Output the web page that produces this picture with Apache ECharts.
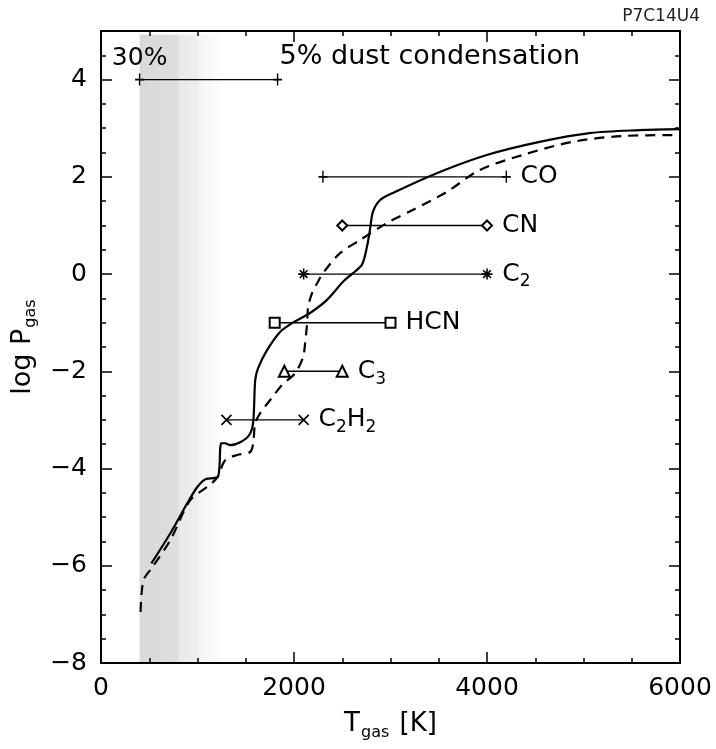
<!DOCTYPE html>
<html>
<head>
<meta charset="utf-8">
<script src="https://cdn.jsdelivr.net/npm/echarts@6/dist/echarts.min.js"></script>
<style>html,body{margin:0;padding:0;background:#fff;}#chart{width:716px;height:749px;}</style>
</head>
<body>
<div id="chart"></div>
<script>
// Solid curve (T_gas [K], log P_gas)
const tempSolid = [522, 719, 895, 998, 1081, 1205, 1225, 1246, 1287, 1339, 1442, 1536, 1577, 1598, 1629, 1722, 1856, 1980, 2166, 2342, 2508, 2611, 2704, 2756, 2787, 2818, 2890, 3025, 3511, 3997, 4545, 5062, 5579, 6000];
const logPSolid = [-5.95, -5.33, -4.71, -4.38, -4.22, -4.18, -4.03, -3.48, -3.48, -3.52, -3.46, -3.31, -3.05, -2.18, -1.93, -1.56, -1.19, -1.01, -0.80, -0.53, -0.16, 0.02, 0.19, 0.56, 0.91, 1.28, 1.52, 1.67, 2.10, 2.45, 2.72, 2.90, 2.96, 2.98];
// Dashed curve
const tempDashed = [410, 440, 533, 719, 925, 1112, 1205, 1287, 1412, 1546, 1577, 1598, 1650, 1753, 1877, 2011, 2094, 2115, 2136, 2146, 2187, 2239, 2301, 2477, 2684, 2963, 3232, 3583, 3924, 4370, 4886, 5403, 6000];
const logPDashed = [-6.95, -6.30, -6.03, -5.47, -4.65, -4.36, -4.18, -3.83, -3.72, -3.66, -3.48, -3.07, -2.86, -2.59, -2.28, -2.04, -1.71, -1.42, -1.01, -0.68, -0.39, -0.19, 0.02, 0.43, 0.70, 1.05, 1.32, 1.69, 2.14, 2.45, 2.72, 2.84, 2.86];
// Molecule formation ranges
const molecules = ['CO', 'CN', 'C2', 'HCN', 'C3', 'C2H2'];
const moleculeLabels = ['CO', 'CN', 'C{s|2}', 'HCN', 'C{s|3}', 'C{s|2}H{s|2}'];
const moleculeLogP = [2, 1, 0, -1, -2, -3];
const moleculeTmin = [2300, 2500, 2100, 1800, 1900, 1300];
const moleculeTmax = [4200, 4000, 4000, 3000, 2500, 2100];
// Dust condensation range
const dustLogP = 4;
const dustTmin = 400;
const dustTmax = 1830;
const dustLabels = ['30%', '5% dust condensation'];
// Shaded band (T range)
const bandT = [400, 1230];
const yTop = 4.93;
// Ticks
const xTicks = [0, 2000, 4000, 6000];
const yTicksMajor = [-8, -6, -4, -2, 0, 2, 4];

const FONT = 'DejaVu Sans';
const plusPath = 'path://M5,0 L5,12 M0,6 L10,6';
const starPath = 'path://M0,5 L10,5 M5,0 L5,10 M1.5,1.5 L8.5,8.5 M8.5,1.5 L1.5,8.5';
const crossPath = 'path://M0,0 L10,10 M10,0 L0,10';
const symbols = [plusPath, 'emptyDiamond', starPath, 'emptyRect', 'emptyTriangle', crossPath];
const symbolSizes = [[9, 12], 10, 11, 10, 11, 10];

const chart = echarts.init(document.getElementById('chart'), null, {renderer: 'canvas'});

function xAx(pos, showLabel) {
  return {
    type: 'value', position: pos, min: 0, max: 6000, interval: 2000,
    axisLine: {show: true, onZero: false, lineStyle: {color: '#000', width: 2}},
    axisTick: {show: true, inside: true, length: 11, lineStyle: {color: '#000', width: 1.5}},
    minorTick: {show: true, splitNumber: 4, length: 5, lineStyle: {color: '#000', width: 1.5}},
    axisLabel: {show: showLabel, fontSize: 25, color: '#000', fontFamily: FONT, margin: 13,
      formatter: v => (xTicks.indexOf(v) >= 0 ? String(v) : '')},
    splitLine: {show: false}, minorSplitLine: {show: false}
  };
}
function yAx(pos, interval, len, showLabel) {
  return {
    type: 'value', position: pos, min: -8, max: 5, interval: interval,
    axisLine: {show: true, onZero: false, lineStyle: {color: '#000', width: 2}},
    axisTick: {show: true, inside: true, length: len, lineStyle: {color: '#000', width: 1.5}},
    axisLabel: {show: showLabel, fontSize: 25, color: '#000', fontFamily: FONT, margin: 14, showMaxLabel: false,
      formatter: v => (yTicksMajor.indexOf(v) >= 0 ? String(v).replace('-', '\u2212') : '')},
    splitLine: {show: false}
  };
}

const xAxes = [xAx('bottom', true), xAx('top', false)];
xAxes[0].name = 'T{s|gas} [K]';
xAxes[0].nameLocation = 'middle';
xAxes[0].nameGap = 45;
xAxes[0].nameTextStyle = {fontSize: 26, color: '#000', fontFamily: FONT,
  rich: {s: {fontSize: 16, fontFamily: FONT, color: '#000', padding: [17, 2, 0, 1]}}};

const yAxes = [yAx('left', 0.5, 5, false), yAx('left', 2, 11, true), yAx('right', 0.5, 5, false), yAx('right', 2, 11, false)];
yAxes[1].name = 'log P{s|gas}';
yAxes[1].nameLocation = 'middle';
yAxes[1].nameGap = 59;
yAxes[1].nameTextStyle = {fontSize: 27, color: '#000', fontFamily: FONT,
  rich: {s: {fontSize: 16, fontFamily: FONT, color: '#000', padding: [17, 0, 0, 1]}}};

const series = [];
series.push({
  type: 'line', name: 'solid', xAxisIndex: 0, yAxisIndex: 0,
  data: tempSolid.map((t, i) => [t, logPSolid[i]]),
  symbol: 'none', smooth: 0.3, lineStyle: {color: '#000', width: 2.2}, z: 5,
  markArea: {silent: true, z: 0,
    itemStyle: {color: {type: 'linear', x: 0, y: 0, x2: 1, y2: 0, colorStops: [
      {offset: 0, color: '#d9d9d9'}, {offset: 0.47, color: '#dedede'},
      {offset: 0.5, color: '#e9e9e9'}, {offset: 0.72, color: '#eeeeee'},
      {offset: 0.75, color: '#f5f5f5'}, {offset: 1, color: '#fbfbfb'}]}},
    data: [[{xAxis: bandT[0], yAxis: -8}, {xAxis: bandT[1], yAxis: yTop}]]}
});
series.push({
  type: 'line', name: 'dashed', xAxisIndex: 0, yAxisIndex: 0,
  data: tempDashed.map((t, i) => [t, logPDashed[i]]),
  symbol: 'none', smooth: 0.3, lineStyle: {color: '#000', width: 2.2, type: [10, 7]}, z: 5
});
molecules.forEach((m, i) => {
  series.push({
    type: 'line', name: m, xAxisIndex: 0, yAxisIndex: 0,
    symbol: symbols[i], symbolSize: symbolSizes[i],
    itemStyle: {color: '#000', borderColor: '#000', borderWidth: 1.6},
    lineStyle: {color: '#000', width: 1.4}, z: 6,
    data: [[moleculeTmin[i], moleculeLogP[i]], {value: [moleculeTmax[i], moleculeLogP[i]],
      label: {show: true, position: 'right', distance: 9, formatter: moleculeLabels[i],
        fontSize: 25, color: '#000', fontFamily: FONT,
        rich: {s: {fontSize: 17, fontFamily: FONT, color: '#000', padding: [16, 0, 0, 0]}}}}]
  });
});
series.push({
  type: 'line', name: 'dust', xAxisIndex: 0, yAxisIndex: 0,
  symbol: plusPath, symbolSize: [9, 12],
  itemStyle: {color: '#000', borderColor: '#000', borderWidth: 1.6},
  lineStyle: {color: '#000', width: 1.4}, z: 6,
  data: [
    {value: [dustTmin, dustLogP], label: {show: true, position: 'top', distance: 2, formatter: dustLabels[0],
      fontSize: 25, color: '#000', fontFamily: FONT}},
    {value: [dustTmax, dustLogP], label: {show: true, position: 'top', align: 'left', offset: [2, 0], distance: 2,
      formatter: dustLabels[1], fontSize: 27, color: '#000', fontFamily: FONT}}]
});

chart.setOption({
  animation: false,
  backgroundColor: '#fff',
  title: {text: 'P7C14U4', right: 11, top: 3, textStyle: {fontSize: 17, fontWeight: 'normal', color: '#222', fontFamily: FONT}},
  grid: {left: 101, right: 36, top: 31, bottom: 86, containLabel: false},
  xAxis: xAxes,
  yAxis: yAxes,
  series: series
});
</script>
</body>
</html>
